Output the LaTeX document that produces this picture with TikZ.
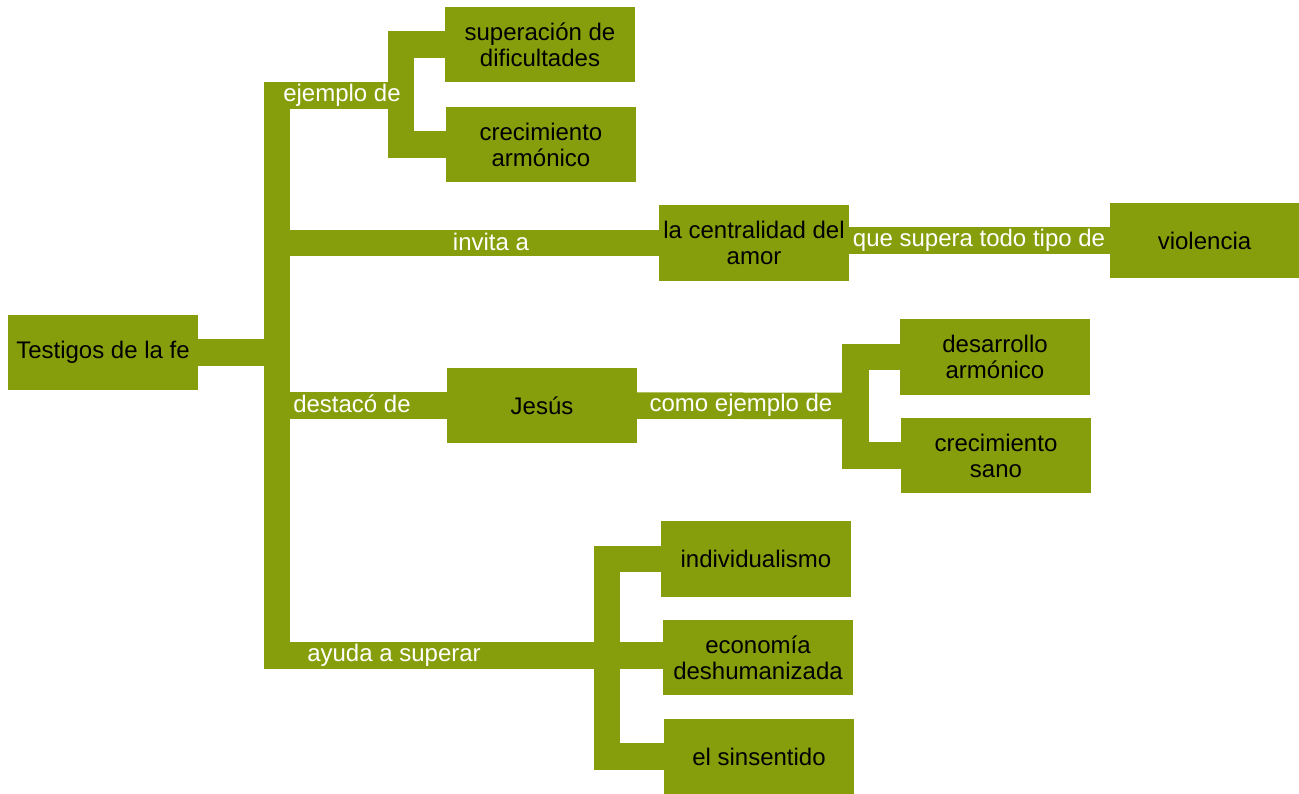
\documentclass[tikz,border=0pt]{standalone}
\usepackage{fontspec}
\setmainfont{Liberation Sans}
\definecolor{olive}{RGB}{135,158,12}
\begin{document}
\begin{tikzpicture}[x=1pt,y=-1pt,
  box/.style={fill=olive, minimum width=190pt, minimum height=75.5pt, inner sep=0pt, align=center,
    font=\fontsize{24}{26}\selectfont, text=black},
  band/.style={draw=olive, line width=26.5pt, line cap=butt, line join=miter},
  lbl/.style={text=white, inner sep=0pt, font=\fontsize{24}{26}\selectfont}]
\useasboundingbox (0,0) rectangle (1299,793);
% junctions
\coordinate (t1) at (277,95.5);
\coordinate (t4) at (277,655.5);
\coordinate (j1) at (401,95.5);
\coordinate (j3) at (855.5,406);
\coordinate (j4) at (607,655.5);
% boxes
\node[box] (test) at (103,352.5) {Testigos de la fe};
\node[box] (sup) at (540,44.5) {superación de\\dificultades};
\node[box] (cre) at (541,144.5) {crecimiento\\armónico};
\node[box] (cent) at (754,243) {la centralidad del\\amor};
\node[box, minimum width=189pt] (viol) at (1204.5,240.5) {violencia};
\node[box] (des) at (995,357) {desarrollo\\armónico};
\node[box] (sano) at (996,455.5) {crecimiento\\sano};
\node[box] (jesus) at (542,405.5) {Jesús};
\node[box] (ind) at (756,559) {individualismo};
\node[box] (eco) at (758,657.5) {economía\\deshumanizada};
\node[box] (sin) at (759,756.5) {el sinsentido};
% bands
\draw[band] (j1) -- (t1) -- (t4) -- (j4);
\draw[band] (sup.west) -| (j1) |- (cre.west);
\draw[band] (test.east) -- (test.east -| t1);
\draw[band] (cent.west -| t1) -- (cent.west);
\draw[band] (viol.west -| cent.east) -- (viol.west);
\draw[band] (jesus.west -| t1) -- (jesus.west);
\draw[band] (jesus.east) -- (j3);
\draw[band] (des.west) -| (j3) |- (sano.west);
\draw[band] (ind.west) -| (j4) |- (sin.west);
\draw[band] (j4) -- (j4 -| eco.west);
% labels
\node[lbl] (l1) at (342,95) {ejemplo de};
\node[lbl] (l2) at (491,242) {invita a};
\node[lbl] (l3) at (979,240) {que supera todo tipo de};
\node[lbl] (l4) at (352,404) {destacó de};
\node[lbl] (l5) at (741,405) {como ejemplo de};
\node[lbl] (l6) at (394,655) {ayuda a superar};
\end{tikzpicture}
\end{document}
